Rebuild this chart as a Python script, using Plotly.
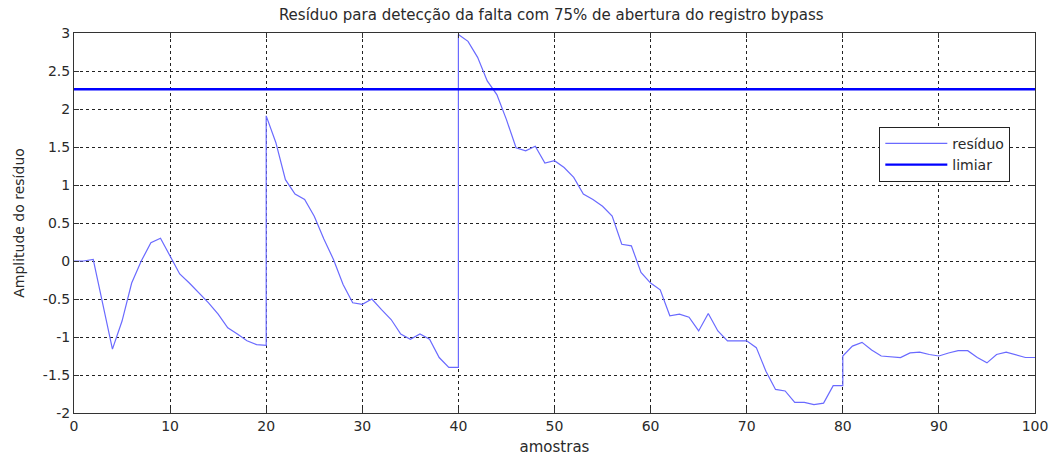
import plotly.graph_objects as go

# sample index (duplicates at 20, 40, 80 where the residual is reset)
amostras = [0, 1, 2, 3, 4, 5, 6, 7, 8, 9, 10, 11, 12, 13, 14, 15, 16, 17, 18, 19, 20,
            20, 21, 22, 23, 24, 25, 26, 27, 28, 29, 30, 31, 32, 33, 34, 35, 36, 37, 38, 39, 40,
            40, 41, 42, 43, 44, 45, 46, 47, 48, 49, 50, 51, 52, 53, 54, 55, 56, 57, 58, 59, 60,
            61, 62, 63, 64, 65, 66, 67, 68, 69, 70, 71, 72, 73, 74, 75, 76, 77, 78, 79, 80,
            80, 81, 82, 83, 84, 85, 86, 87, 88, 89, 90, 91, 92, 93, 94, 95, 96, 97, 98, 99, 100]
residuo = [0.0, 0.0, 0.02, -0.58, -1.16, -0.79, -0.29, 0.0, 0.24, 0.3, 0.07, -0.17, -0.29, -0.42, -0.55, -0.70, -0.88, -0.96, -1.05, -1.10, -1.11,
           1.91, 1.56, 1.07, 0.88, 0.81, 0.59, 0.29, 0.02, -0.31, -0.55, -0.57, -0.50, -0.64, -0.77, -0.96, -1.03, -0.96, -1.03, -1.27, -1.40, -1.40,
           2.98, 2.89, 2.68, 2.37, 2.19, 1.86, 1.49, 1.45, 1.51, 1.29, 1.32, 1.23, 1.10, 0.88, 0.81, 0.72, 0.59, 0.22, 0.20, -0.15, -0.29,
           -0.38, -0.72, -0.70, -0.74, -0.92, -0.69, -0.92, -1.05, -1.05, -1.05, -1.14, -1.45, -1.69, -1.71, -1.86, -1.86, -1.89, -1.87, -1.64, -1.64,
           -1.25, -1.12, -1.07, -1.17, -1.25, -1.26, -1.27, -1.21, -1.20, -1.23, -1.25, -1.21, -1.18, -1.18, -1.27, -1.34, -1.23, -1.20, -1.24, -1.27, -1.27]
limiar_x = [0, 100]
limiar_y = [2.26, 2.26]

x_ticks = [0, 10, 20, 30, 40, 50, 60, 70, 80, 90, 100]
y_ticks = [3, 2.5, 2, 1.5, 1, 0.5, 0, -0.5, -1, -1.5, -2]
y_ticktext = ["3", "2.5", "2", "1.5", "1", "0.5", "0", "-0.5", "-1", "-1.5", "-2"]

FONT = "DejaVu Sans, Liberation Sans, Arial, sans-serif"
TXT = "#2a2a2a"

fig = go.Figure()
fig.add_trace(go.Scatter(x=amostras, y=residuo, mode="lines", name="resíduo",
                         line=dict(color="#6a6aff", width=1.2)))
fig.add_trace(go.Scatter(x=limiar_x, y=limiar_y, mode="lines", name="limiar",
                         line=dict(color="#0000ff", width=2.4)))

axis_common = dict(showline=True, linecolor="#333333", linewidth=1, mirror="ticks",
                   ticks="inside", ticklen=5, tickcolor="#333333",
                   showgrid=True, gridcolor="#222222", griddash="dot", gridwidth=1,
                   zeroline=False, automargin=False,
                   tickfont=dict(family=FONT, size=14, color=TXT))

fig.update_layout(
    width=1050, height=457,
    margin=dict(l=74, r=15, t=33, b=44, autoexpand=False),
    paper_bgcolor="white", plot_bgcolor="white",
    font=dict(family=FONT, size=14, color=TXT),
    title=dict(text="Resíduo para detecção da falta com 75% de abertura do registro bypass",
               x=0.525, xanchor="center", y=0.968, yanchor="middle",
               font=dict(family=FONT, size=15, color=TXT)),
    xaxis=dict(range=[0, 100], tickvals=x_ticks,
               title=dict(text="amostras", standoff=8, font=dict(family=FONT, size=15)),
               **axis_common),
    yaxis=dict(range=[-2, 3], tickvals=y_ticks, ticktext=y_ticktext,
               title=dict(text="Amplitude do resíduo", standoff=14, font=dict(family=FONT, size=14)),
               **axis_common),
    legend=dict(x=0.838, y=0.753, xanchor="left", yanchor="top",
                bgcolor="white", bordercolor="#222222", borderwidth=1,
                font=dict(family=FONT, size=14, color=TXT),
                itemwidth=62,
                tracegroupgap=0),
    showlegend=True,
)

fig.write_html("out.html")
